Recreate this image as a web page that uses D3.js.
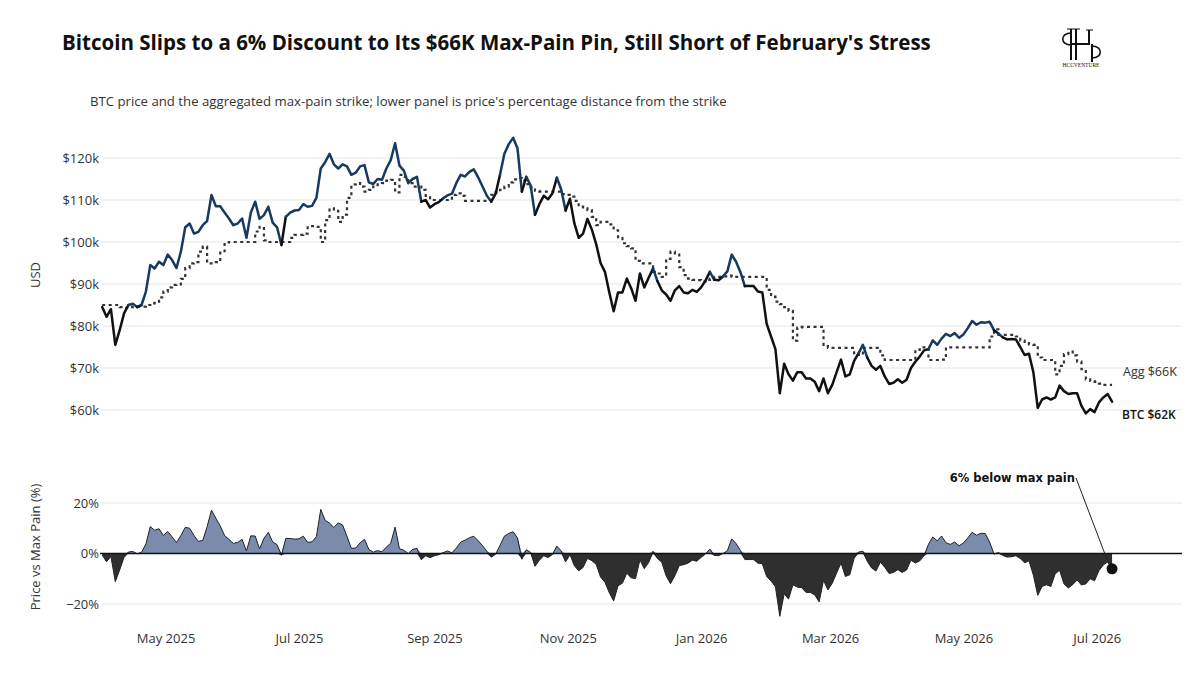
<!DOCTYPE html>
<html>
<head>
<meta charset="utf-8">
<script src="https://cdn.jsdelivr.net/npm/d3@7"></script>
<style>
  body { margin: 0; background: #fff; }
  svg { display: block; }
</style>
</head>
<body>
<svg id="chart" width="1200" height="675"></svg>
<script>
// BTC close (in $k) and aggregated max-pain strike (in $k), every 2 days from 2 Apr 2025
var startDate = new Date(2025, 3, 2);
var stepDays = 2;

var btcPrice = [
  84.5, 82.2, 84, 75.5, 79, 83, 85, 85.3, 84.5, 85,
  88.2, 94.5, 93.7, 95.3, 94.5, 97, 95.7, 93.8, 97.7, 103.5,
  104.4, 102, 102.4, 104, 105, 111.2, 108.5, 108.5, 107, 105.6,
  104, 104.4, 105.6, 101, 107, 109.6, 105.5, 106.4, 108.4, 104.6,
  103.5, 99.3, 106, 107, 107.5, 107.6, 109, 108.4, 108.6, 110.5,
  117.5, 119, 121, 118.5, 117.5, 118.5, 118, 116, 116.5, 118,
  118.3, 114.2, 113.8, 115, 114.8, 117.5, 119.5, 123.5, 118.2, 117,
  114, 115, 115.5, 109.6, 110, 108.2, 109, 109.5, 110.4, 111.1,
  111.5, 114, 116, 115.6, 116.7, 117.3, 115.4, 113.2, 111, 109.6,
  111.5, 116, 121, 123.3, 124.8, 122.3, 112, 115.5, 113.5, 106.5,
  109, 111, 110.2, 111.6, 115.3, 112.5, 107.5, 110.3, 104.5, 101,
  102, 105.5, 103, 99.5, 95, 92.9, 88, 83.5, 88, 88,
  91.3, 89, 86, 92.5, 89.2, 91.5, 93.7, 90.7, 88.5, 87.5,
  86, 88.5, 89.5, 88, 87.8, 88.6, 88.1, 89.2, 90.8, 92.9,
  91, 90.9, 91.8, 93, 97, 95.3, 92.8, 89.5, 89.5, 89.5,
  88.2, 88, 80.5, 77.5, 74.5, 64, 71, 68.5, 67, 69,
  69, 67.5, 67.5, 66.7, 64.5, 67.5, 64, 66, 69, 72,
  68, 68.5, 71.7, 73.5, 75.5, 72.5, 70.5, 69.6, 70.5, 68,
  66.2, 66.5, 67.3, 66.5, 67.2, 70, 71.5, 72.7, 74.2, 74.5,
  76.6, 75.5, 77, 78.1, 77.6, 78.3, 77.2, 78, 79.5, 81.2,
  80.3, 80.9, 80.8, 81, 79, 78.2, 77.3, 76.8, 76.9, 76.8,
  75, 73.1, 73.4, 69, 60.5, 62.5, 63, 62.5, 63, 65.8,
  64.5, 63.8, 64, 64, 61, 59.2, 60.2, 59.5, 61.8, 63,
  63.8, 62
];

var maxPain = [
  85, 85, 85, 85, 84.5, 84.3, 84.5, 84.6, 84.6, 84.6,
  85, 85.4, 85.8, 86.8, 88.2, 89.2, 89.8, 89.9, 91.2, 93.8,
  94.9, 95.2, 97.7, 98.9, 94.9, 94.9, 95.2, 97.8, 99.9, 100,
  100, 100, 100, 100, 100, 102.5, 103.6, 100.4, 100, 100,
  100, 100, 100, 101, 101.7, 101.7, 102, 103.8, 103.8, 103.6,
  100, 105.2, 108, 107.4, 104.8, 106.5, 110.5, 113.7, 114, 113.2,
  112, 112.4, 113.2, 113.7, 114, 114.6, 114.8, 111.8, 116, 115.5,
  114, 113.2, 113.2, 112.4, 111, 110, 110, 110, 110, 110,
  111.2, 111.6, 111, 109.8, 109.8, 109.8, 109.8, 109.8, 110, 111.2,
  111.8, 112.4, 113.2, 114.2, 114.9, 115.2, 114.6, 113.8, 113, 112.2,
  112, 112, 112, 112, 112, 111.4, 111.2, 110.8, 109.8, 108.4,
  108, 107.6, 106, 104, 104.8, 104.8, 104.2, 102.8, 100.9, 99.7,
  99, 98.5, 95.5, 94.9, 94.9, 94.9, 92.9, 92.5, 91.7, 96,
  97.7, 97, 94, 92.1, 91.3, 91, 90.9, 90.6, 91, 91.3,
  91.7, 91.7, 91.8, 92, 91.7, 91.7, 91.7, 91.7, 91.7, 91.7,
  91.7, 91.7, 88.6, 87, 85.8, 85.2, 84.5, 83.6, 76.5, 79.6,
  79.8, 79.8, 79.8, 79.8, 79.8, 75.5, 74.8, 74.8, 74.8, 74.8,
  74.8, 74.8, 73.1, 73.1, 74.8, 74.8, 74.8, 74.8, 73, 71.9,
  71.9, 71.9, 71.9, 71.9, 71.9, 71.9, 74.3, 74.9, 74.9, 71.9,
  71.9, 71.9, 72, 74.9, 74.9, 74.9, 74.9, 74.9, 74.9, 74.9,
  74.9, 74.9, 74.9, 77.5, 79.2, 77.9, 77.9, 77.9, 77.9, 77.5,
  76.5, 75.9, 75.6, 75.5, 72.5, 71.9, 71.9, 71.9, 68.5, 70.5,
  73.3, 73.9, 73, 71.5, 69.7, 67.3, 66.9, 66.7, 66.3, 66,
  66, 66
];

var priceTicks = [60, 70, 80, 90, 100, 110, 120];
var pctTicks = [-20, 0, 20];

var svg = d3.select("#chart");
var font = "'Open Sans', 'Segoe UI', sans-serif";

var left = 100, right = 1182;

var rows = btcPrice.map(function (p, i) {
  return {
    date: d3.timeDay.offset(startDate, i * stepDays),
    price: p,
    pain: maxPain[i],
    pct: (p / maxPain[i] - 1) * 100
  };
});

var x = d3.scaleTime()
  .domain([new Date(2025, 3, 1), new Date(2026, 7, 9)])
  .range([left, right]);

var y = d3.scaleLinear().domain([60, 120]).range([410, 158]);
var y2 = d3.scaleLinear().domain([-20, 20]).range([604, 503]);

// ---- titles
svg.append("text")
  .attr("x", 62).attr("y", 50)
  .attr("font-family", font).attr("font-weight", 700)
  .attr("font-size", 20.5).attr("fill", "#111")
  .text("Bitcoin Slips to a 6% Discount to Its $66K Max-Pain Pin, Still Short of February's Stress");

svg.append("text")
  .attr("x", 90).attr("y", 106)
  .attr("font-family", font).attr("font-size", 13.2).attr("fill", "#333")
  .text("BTC price and the aggregated max-pain strike; lower panel is price's percentage distance from the strike");

// ---- logo
var logo = svg.append("g").attr("stroke", "#111").attr("fill", "none");
logo.append("path").attr("d", "M1071,29 L1071,60 M1076,29 L1076,60 M1071,44 L1090,44 M1089,30 L1089,44 M1092,44 L1092,62")
  .attr("stroke-width", 2);
logo.append("path").attr("d", "M1071,33 C1060,33 1060,45 1071,45").attr("stroke-width", 1.6);
logo.append("path").attr("d", "M1092,46 C1103,46 1103,58 1092,58").attr("stroke-width", 1.6);
logo.append("path").attr("d", "M1067,29 L1080,29 M1086,30 L1093,30").attr("stroke-width", 1.2);
svg.append("text")
  .attr("x", 1081).attr("y", 67).attr("text-anchor", "middle")
  .attr("font-family", "'Liberation Serif', serif").attr("font-size", 5.5)
  .attr("fill", "#111").text("HCCVENTURE");

// ---- top panel grid + axis
svg.append("g").selectAll("line").data(priceTicks).join("line")
  .attr("x1", left + 2).attr("x2", right)
  .attr("y1", function (d) { return y(d); }).attr("y2", function (d) { return y(d); })
  .attr("stroke", "#e5e5e5").attr("stroke-width", 1.2);

svg.append("g").selectAll("text").data(priceTicks).join("text")
  .attr("x", 99).attr("y", function (d) { return y(d); }).attr("dy", "0.35em")
  .attr("text-anchor", "end")
  .attr("font-family", font).attr("font-size", 13).attr("fill", "#333")
  .text(function (d) { return "$" + d + "k"; });

svg.append("text")
  .attr("transform", "translate(40,275) rotate(-90)")
  .attr("text-anchor", "middle")
  .attr("font-family", font).attr("font-size", 13).attr("fill", "#333")
  .text("USD");

// ---- max pain (dotted step line)
var painLine = d3.line()
  .x(function (d) { return x(d.date); })
  .y(function (d) { return y(d.pain); })
  .curve(d3.curveStepAfter);

svg.append("path")
  .datum(rows)
  .attr("d", painLine)
  .attr("fill", "none")
  .attr("stroke", "#333")
  .attr("stroke-width", 2.2)
  .attr("stroke-dasharray", "3,3.5");

// ---- price line, navy above the pin and black below
var runs = [];
var cur = { up: rows[0].price >= rows[0].pain, pts: [rows[0]] };
for (var i = 1; i < rows.length; i++) {
  var up = rows[i].price >= rows[i].pain;
  cur.pts.push(rows[i]);
  if (up !== cur.up) {
    runs.push(cur);
    cur = { up: up, pts: [rows[i]] };
  }
}
runs.push(cur);

var priceLine = d3.line()
  .x(function (d) { return x(d.date); })
  .y(function (d) { return y(d.price); });

svg.append("g").selectAll("path").data(runs).join("path")
  .attr("d", function (r) { return priceLine(r.pts); })
  .attr("fill", "none")
  .attr("stroke", function (r) { return r.up ? "#173a60" : "#111"; })
  .attr("stroke-width", 2.5)
  .attr("stroke-linejoin", "round")
  .attr("stroke-linecap", "round");

var last = rows[rows.length - 1];

svg.append("text")
  .attr("x", 1123).attr("y", 372).attr("dy", "0.35em")
  .attr("font-family", font).attr("font-size", 12.5).attr("fill", "#333")
  .text("Agg $" + Math.round(last.pain) + "K");

svg.append("text")
  .attr("x", 1122).attr("y", 415).attr("dy", "0.35em")
  .attr("font-family", font).attr("font-size", 12).attr("font-weight", 600).attr("fill", "#111")
  .text("BTC $" + Math.round(last.price) + "K");

// ---- lower panel
svg.append("g").selectAll("line").data(pctTicks.filter(function (d) { return d !== 0; })).join("line")
  .attr("x1", left + 2).attr("x2", right)
  .attr("y1", function (d) { return y2(d); }).attr("y2", function (d) { return y2(d); })
  .attr("stroke", "#e5e5e5").attr("stroke-width", 1.2);

svg.append("g").selectAll("text").data(pctTicks).join("text")
  .attr("x", 99).attr("y", function (d) { return y2(d); }).attr("dy", "0.35em")
  .attr("text-anchor", "end")
  .attr("font-family", font).attr("font-size", 13).attr("fill", "#333")
  .text(function (d) { return (d < 0 ? "\u2212" : "") + Math.abs(d) + "%"; });

svg.append("text")
  .attr("transform", "translate(40,547) rotate(-90)")
  .attr("text-anchor", "middle")
  .attr("font-family", font).attr("font-size", 13).attr("fill", "#333")
  .text("Price vs Max Pain (%)");

var posArea = d3.area()
  .x(function (d) { return x(d.date); })
  .y0(y2(0))
  .y1(function (d) { return y2(Math.max(0, d.pct)); });

var negArea = d3.area()
  .x(function (d) { return x(d.date); })
  .y0(y2(0))
  .y1(function (d) { return y2(Math.min(0, d.pct)); });

svg.append("path").datum(rows).attr("d", posArea).attr("fill", "#7b8bab");
svg.append("path").datum(rows).attr("d", negArea).attr("fill", "#2f2f2f");

svg.append("path").datum(rows)
  .attr("d", d3.line()
    .x(function (d) { return x(d.date); })
    .y(function (d) { return y2(d.pct); }))
  .attr("fill", "none")
  .attr("stroke", "#1c222c")
  .attr("stroke-width", 1);

svg.append("line")
  .attr("x1", left).attr("x2", right)
  .attr("y1", y2(0)).attr("y2", y2(0))
  .attr("stroke", "#111").attr("stroke-width", 1.5);

// callout on the latest reading
var dotX = x(last.date), dotY = y2(last.pct);
svg.append("line")
  .attr("x1", 1076).attr("y1", 478)
  .attr("x2", dotX - 3).attr("y2", dotY - 4)
  .attr("stroke", "#222").attr("stroke-width", 1);
svg.append("circle")
  .attr("cx", dotX).attr("cy", dotY).attr("r", 5.5)
  .attr("fill", "#111");
svg.append("text")
  .attr("x", 1075).attr("y", 482)
  .attr("text-anchor", "end")
  .attr("font-family", "'DejaVu Sans', sans-serif").attr("font-weight", 700)
  .attr("font-size", 11.5).attr("fill", "#111")
  .text(Math.round(-last.pct) + "% below max pain");

// ---- x axis
var xAxis = d3.axisBottom(x)
  .ticks(d3.timeMonth.every(2))
  .tickFormat(d3.timeFormat("%b %Y"))
  .tickSize(0)
  .tickPadding(0);

var gx = svg.append("g").attr("transform", "translate(0,634)").call(xAxis);
gx.select(".domain").remove();
gx.selectAll("text")
  .attr("font-family", font).attr("font-size", 13).attr("fill", "#333");
</script>
</body>
</html>
